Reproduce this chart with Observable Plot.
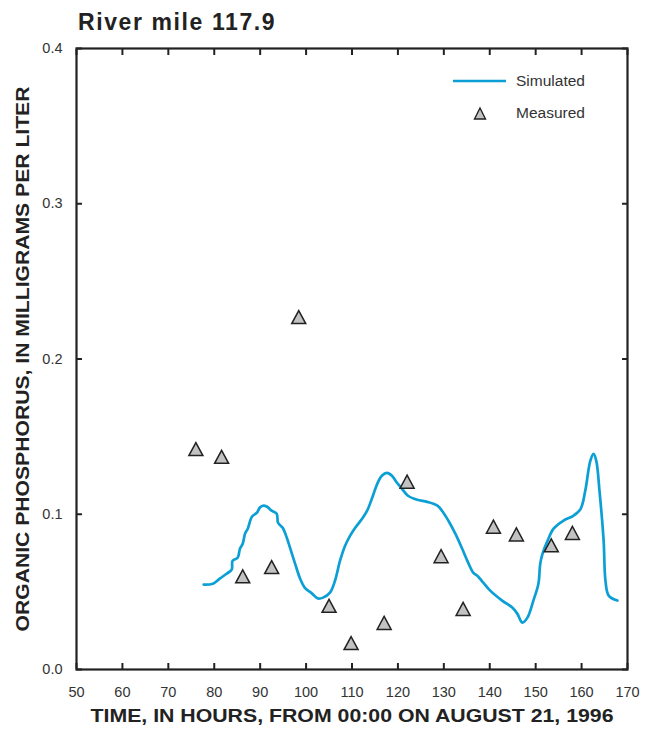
<!DOCTYPE html>
<html>
<head>
<meta charset="utf-8">
<script src="https://cdn.jsdelivr.net/npm/d3@7"></script>
<script src="https://cdn.jsdelivr.net/npm/@observablehq/plot@0.6"></script>
<style>
  html, body { margin: 0; padding: 0; background: #fff; }
  #wrap { position: relative; width: 653px; height: 733px; font-family: "Liberation Sans", Arial, Helvetica, sans-serif; }
  #title { height: 36px; box-sizing: border-box; padding-left: 78px; padding-top: 10px; font-size: 23px; letter-spacing: 1.6px; font-weight: bold; color: #222; line-height: 24px; white-space: nowrap; }
  #legend { position: absolute; left: 0; top: 0; }
</style>
</head>
<body>
<div id="wrap">
  <div id="title">River mile 117.9</div>
  <div id="chart"></div>
</div>
<script>
// Simulated organic phosphorus (hours, mg/L)
const simHours = [77.7, 79.7, 81.2, 82.7, 83.8, 84.0, 85.1, 85.6, 86.2, 86.7, 87.3, 88.2, 89.3, 89.9, 90.6, 91.5, 92.5, 93.6, 93.9, 94.9, 95.8, 96.5, 97.6, 98.7, 99.7, 101.3, 102.6, 103.7, 105.2, 106.3, 107.4, 108.5, 109.6, 110.7, 112.2, 113.3, 114.4, 115.5, 116.5, 117.6, 118.7, 119.8, 120.9, 122.2, 124.2, 126.4, 128.6, 129.9, 131.0, 132.5, 134.0, 135.3, 136.4, 137.5, 138.6, 140.1, 142.7, 144.9, 146.0, 147.1, 148.2, 149.5, 150.6, 151.0, 151.5, 152.6, 153.9, 156.0, 158.2, 159.8, 160.8, 161.9, 162.6, 163.2, 163.9, 164.8, 165.2, 165.9, 167.8];
const simValues = [0.0547, 0.0553, 0.0585, 0.0617, 0.0643, 0.0701, 0.0720, 0.0778, 0.0810, 0.0875, 0.0907, 0.0984, 0.1010, 0.1042, 0.1055, 0.1048, 0.1023, 0.1003, 0.0945, 0.0913, 0.0849, 0.0785, 0.0682, 0.0585, 0.0527, 0.0489, 0.0457, 0.0463, 0.0495, 0.0572, 0.0701, 0.0797, 0.0862, 0.0913, 0.0971, 0.1023, 0.1106, 0.1196, 0.1248, 0.1267, 0.1248, 0.1203, 0.1164, 0.1119, 0.1093, 0.1080, 0.1055, 0.1010, 0.0958, 0.0875, 0.0778, 0.0688, 0.0624, 0.0598, 0.0559, 0.0508, 0.0444, 0.0399, 0.0360, 0.0302, 0.0334, 0.0444, 0.0553, 0.0682, 0.0746, 0.0830, 0.0907, 0.0958, 0.0990, 0.1035, 0.1151, 0.1344, 0.1389, 0.1344, 0.1151, 0.0830, 0.0572, 0.0476, 0.0444];

// Measured organic phosphorus
const measHours = [76.0, 81.6, 86.2, 92.5, 98.4, 105.0, 109.8, 117.0, 122.0, 129.4, 134.2, 140.8, 145.8, 153.4, 158.0];
const measValues = [0.142, 0.137, 0.060, 0.066, 0.227, 0.041, 0.017, 0.030, 0.121, 0.073, 0.039, 0.092, 0.087, 0.080, 0.088];

const xTicks = [50, 60, 70, 80, 90, 100, 110, 120, 130, 140, 150, 160, 170];
const yTicks = [0.0, 0.1, 0.2, 0.3, 0.4];

const xLabel = "TIME, IN HOURS, FROM 00:00 ON AUGUST 21, 1996";
const yLabel = "ORGANIC PHOSPHORUS, IN MILLIGRAMS PER LITER";
const legendLabels = ["Simulated", "Measured"];

const lineColor = "#0b9fd6";

const sim = simHours.map((h, i) => ({h, v: simValues[i]}));
const meas = measHours.map((h, i) => ({h, v: measValues[i]}));

// isoceles triangle symbol, centred on its bounding box
const tri = {
  draw(context, size) {
    const w = 7, hh = 6.5;
    context.moveTo(0, -hh);
    context.lineTo(w, hh);
    context.lineTo(-w, hh);
    context.closePath();
  }
};

const chart = Plot.plot({
  width: 653,
  height: 697,
  marginTop: 12,
  marginBottom: 64,
  marginLeft: 76,
  marginRight: 26,
  style: {fontFamily: "'Liberation Sans', Arial, Helvetica, sans-serif", fontSize: "14.5px", color: "#333", background: "#fff", overflow: "visible"},
  x: {domain: [50, 170], ticks: xTicks},
  y: {domain: [0, 0.4], ticks: yTicks},
  marks: [
    Plot.line(sim, {x: "h", y: "v", stroke: lineColor, strokeWidth: 2.7, curve: "catmull-rom"}),
    Plot.dot(meas, {x: "h", y: "v", symbol: tri, r: 5, fill: "#c2c2c2", stroke: "#222", strokeWidth: 1.5}),
    // inward ticks on all four sides
    Plot.axisX(xTicks, {anchor: "bottom", tickSize: -6, text: null, stroke: "#222", strokeWidth: 2, label: null}),
    Plot.axisX(xTicks, {anchor: "top", tickSize: -6, text: null, stroke: "#222", strokeWidth: 2, label: null}),
    Plot.axisY(yTicks, {anchor: "left", tickSize: -6, text: null, stroke: "#222", strokeWidth: 2, label: null}),
    Plot.axisY(yTicks, {anchor: "right", tickSize: -6, text: null, stroke: "#222", strokeWidth: 2, label: null}),
    // tick labels
    Plot.axisX(xTicks, {anchor: "bottom", tickSize: 0, tickPadding: 17, fontSize: 14.5, fill: "#333", label: null}),
    Plot.axisY(yTicks, {anchor: "left", tickSize: 0, tickPadding: 14, tickFormat: d3.format(".1f"), fontSize: 14.5, fill: "#333", label: null}),
    Plot.frame({stroke: "#222", strokeWidth: 2.2}),
    // axis titles
    Plot.text([xLabel], {frameAnchor: "bottom", dy: 52, text: d => d, textAnchor: "middle", fontSize: 19, fontWeight: "bold", fill: "#222"}),
    Plot.text([yLabel], {frameAnchor: "left", dx: -54, rotate: -90, text: d => d, textAnchor: "middle", fontSize: 19, fontWeight: "bold", fill: "#222"})
  ]
});
// stretch the axis titles to the reference's widths
d3.select(chart).selectAll("text").each(function() {
  const t = this.textContent;
  if (t === xLabel) this.setAttribute("textLength", 523);
  if (t === yLabel) this.setAttribute("textLength", 545);
  if (t === xLabel || t === yLabel) this.setAttribute("lengthAdjust", "spacingAndGlyphs");
});
document.getElementById("chart").appendChild(chart);

// legend overlay
const ns = "http://www.w3.org/2000/svg";
const leg = document.createElementNS(ns, "svg");
leg.setAttribute("id", "legend");
leg.setAttribute("width", 653);
leg.setAttribute("height", 140);
leg.innerHTML = `
  <line x1="453" x2="506" y1="81" y2="81" stroke="${lineColor}" stroke-width="2.7"/>
  <path d="M480,108 L485.5,119 L474.5,119 Z" fill="#c2c2c2" stroke="#222" stroke-width="1.4"/>
  <text x="516" y="81" dy="0.35em" font-size="15.5" fill="#333" font-family="'Liberation Sans', Arial, sans-serif">${legendLabels[0]}</text>
  <text x="516" y="113" dy="0.35em" font-size="15.5" fill="#333" font-family="'Liberation Sans', Arial, sans-serif">${legendLabels[1]}</text>`;
document.getElementById("wrap").appendChild(leg);
</script>
</body>
</html>
